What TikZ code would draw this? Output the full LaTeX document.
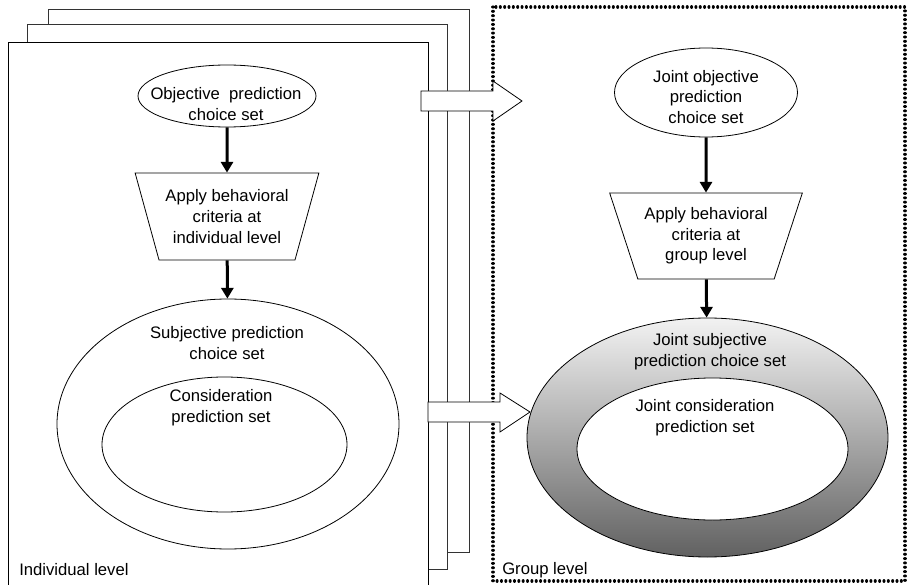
\documentclass[tikz,border=0pt]{standalone}
\usepackage{fontspec}
\setmainfont{Liberation Sans}
\usetikzlibrary{shapes.geometric,arrows.meta}

\tikzset{
  oval/.style={draw,ellipse,inner sep=0pt,line width=0.6pt},
  filter/.style={draw,trapezium,shape border rotate=180,trapezium stretches=true,
    inner sep=0pt,align=center,line width=0.6pt},
  txt/.style={align=center,inner sep=0pt},
  flow/.style={line width=2.25pt,-{Triangle[length=8pt,width=9pt]}},
  page/.style={draw,fill=white,line width=0.6pt},
  fat arrow/.style={draw,fill=white,line width=0.6pt,line join=miter},
  dotframe/.style={line width=2.3pt,line cap=round,dash pattern=on 0.01pt off 3.25pt}
}

\begin{document}
\begin{tikzpicture}[x=0.75pt,y=-0.75pt,font=\fontsize{12.5}{15.5}\selectfont]
  \useasboundingbox (0,0) rectangle (908,585);
  \clip (0,0) rectangle (908,585);

  % stack of individual sheets
  \draw[page,draw=black!80] (48,9) rectangle (469,552);
  \draw[page,draw=black!80] (27,24) rectangle (447,569);
  \draw[page] (8,600) -- (8,42) -- (428,42) -- (428,600);
  \draw[dotframe] (493,7) rectangle (905,581);

  % hand-over arrows
  \draw[fat arrow] (421,91) -- (493,91) -- (493,81) -- (522,101) -- (493,121) -- (493,111) -- (421,111) -- cycle;
  \draw[fat arrow] (428,402) -- (500,402) -- (500,393) -- (530,412) -- (500,432) -- (500,422) -- (428,422) -- cycle;

  % individual level
  \node[oval,minimum width=133.5pt,minimum height=46.5pt] (obj) at (227,96) {};
  \node[txt] (objtxt) at (226,104) {Objective~ prediction\\choice set};
  \node[filter,minimum width=138pt,minimum height=65.25pt,trapezium angle=68] (critind) at (227,216.5)
    {Apply behavioral\\criteria at\\individual level};
  \node[oval,minimum width=256.5pt,minimum height=187.5pt] (subj) at (228,424) {};
  \node[txt] (subjtxt) at (227,343) {Subjective prediction\\choice set};
  \node[oval,minimum width=183.75pt,minimum height=101.25pt] (cons) at (224.5,444.5) {};
  \node[txt] (constxt) at (221,408) {Consideration\\prediction set};
  \node[anchor=base west,inner sep=0pt] (indlab) at (19,575) {Individual level};

  % group level
  \node[oval,minimum width=137.25pt,minimum height=66.75pt] (jobj) at (706,92.5) {};
  \node[txt] (jobjtxt) at (706,97) {Joint objective\\prediction\\choice set};
  \node[filter,minimum width=144.75pt,minimum height=64.5pt,trapezium angle=65.9] (critgrp) at (706,236)
    {Apply behavioral\\criteria at\\group level};
  \node[oval,top color=black!5,bottom color=black!62,minimum width=270.75pt,minimum height=179.25pt] (jsubj) at (707.5,437.5) {};
  \node[txt] (jsubjtxt) at (710,352) {Joint subjective\\prediction choice set};
  \node[oval,fill=white,minimum width=203.25pt,minimum height=106.5pt] (jcons) at (712.5,449) {};
  \node[txt] (jconstxt) at (705,418) {Joint consideration\\prediction set};
  \node[anchor=base west,inner sep=0pt] (grplab) at (502,574) {Group level};

  \draw[flow] (obj) -- (critind);
  \draw[flow] (critind) -- (subj);
  \draw[flow] (jobj) -- (critgrp);
  \draw[flow] (critgrp) -- (jsubj);
\end{tikzpicture}
\end{document}
